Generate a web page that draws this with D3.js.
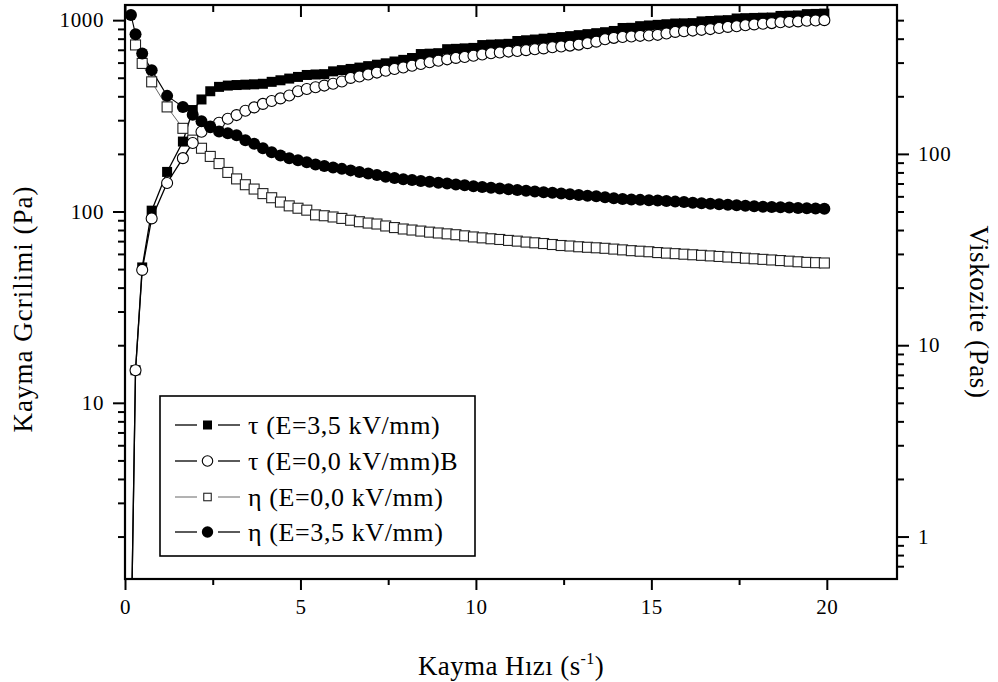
<!DOCTYPE html>
<html><head><meta charset="utf-8">
<script src="https://cdn.jsdelivr.net/npm/d3@7"></script>
<style>
body{margin:0;background:#fff}
svg{display:block}
text{font-family:"Liberation Serif","Times New Roman",serif;fill:#000}
</style>
</head><body>
<svg id="chart" width="998" height="682"></svg>
<script>
// ---- data ----
const shearRate = [0.17,0.30,0.49,0.76,1.20,1.65,1.93,
  2.18,2.43,2.68,2.93,3.18,3.43,3.68,3.93,4.18,4.43,4.68,4.93,
  5.18,5.43,5.68,5.93,6.18,6.43,6.68,6.93,7.18,7.43,7.68,7.93,
  8.18,8.43,8.68,8.93,9.18,9.43,9.68,9.93,10.18,10.43,10.68,10.93,
  11.18,11.43,11.68,11.93,12.18,12.43,12.68,12.93,13.18,13.43,13.68,13.93,
  14.18,14.43,14.68,14.93,15.18,15.43,15.68,15.93,16.18,16.43,16.68,16.93,
  17.18,17.43,17.68,17.93,18.18,18.43,18.68,18.93,19.18,19.43,19.68,19.93];

// shear stress, E = 3.5 kV/mm (Pa, left axis)
const tauE35 = [0.5,14.8,51,101,161,232,339,
  385,425,448,455,458,460,462,465,476,485,495,505,
  517,520,522,540,548,556,565,575,585,595,608,620,
  634,665,668,672,705,708,712,716,741,745,748,752,
  778,785,792,800,808,816,825,835,845,855,865,878,
  910,912,930,938,945,952,960,962,965,985,990,996,
  1000,1020,1024,1027,1030,1032,1052,1055,1058,1075,1078,1082];

// shear stress, E = 0.0 kV/mm (Pa, left axis)
const tauE0 = [0.5,14.8,49.5,92,141,190,228,
  261,276,291,305,319,336,350,365,378,390,404,425,
  437,446,455,465,478,499,508,520,532,544,556,566,
  578,590,602,614,624,635,642,652,662,672,678,685,
  690,697,705,712,722,728,736,745,758,772,795,808,
  817,822,828,832,838,852,868,875,882,890,898,910,
  922,930,940,950,958,965,975,980,985,992,996,1000];

// viscosity, E = 0.0 kV/mm (Pas, right axis)
const etaE0 = [null,371,297,238,176,136,118,
  107,97,89,80,74,69,65.5,62,59,56,53.5,52,
  50.8,48,47.5,46.8,46,45,44.2,43.5,43,42,41.2,40.5,
  40,39.5,39,38.6,38.2,37.8,37.3,36.8,36.4,36,35.7,35.3,
  35,34.6,34.3,34,33.6,33.2,33,32.7,32.5,32.3,32.1,31.8,
  31.5,31.2,31,30.8,30.5,30.3,30.1,29.9,29.7,29.5,29.3,29.1,
  28.9,28.7,28.5,28.3,28.1,27.9,27.7,27.5,27.3,27.1,27,26.9];

// viscosity, E = 3.5 kV/mm (Pas, right axis)
const etaE35 = [532,422,335,274,201,176,160,
  148,139,131,128,125,118,113,107,102,98,95,92.5,
  90.5,88,86.5,85,83.5,82,80.5,79,77.6,76,74.8,73.6,
  73,72.2,71.5,70.6,70,69.2,68.5,67.8,67.2,66.5,66,65.4,
  64.8,64.2,63.6,63.1,62.6,62.1,61.5,61,60.5,60,59.4,58.7,
  58.1,57.8,57.5,57.2,57,56.7,56.3,56,55.6,55.2,54.9,54.6,
  54.2,53.9,53.6,53.2,53,52.8,52.6,52.4,52.2,52,51.8,51.6];

const xTickValues = [0,5,10,15,20];
const xMinorTicks = [2.5,7.5,12.5,17.5];
const leftTickValues = [10,100,1000];
const leftMinorTicks = [2,3,4,5,6,7,8,9,20,30,40,50,60,70,80,90,200,300,400,500,600,700,800,900];
const rightTickValues = [1,10,100];
const rightMinorTicks = [0.7,0.8,0.9,2,3,4,5,6,7,8,9,20,30,40,50,60,70,80,90,200,300,400,500];
const legendLabels = ["\u03C4 (E=3,5 kV/mm)","\u03C4 (E=0,0 kV/mm)B","\u03B7 (E=0,0 kV/mm)","\u03B7 (E=3,5 kV/mm)"];

// ---- layout ----
const svg = d3.select("#chart");
const L = 125, R = 897, T = 5, B = 579;
const x = d3.scaleLinear().domain([0,22]).range([L,R]);
const yL = d3.scaleLog().domain([1.2,1200]).range([B,T]);
const yR = d3.scaleLog().domain([0.6,600]).range([B,T]);

svg.append("defs").append("clipPath").attr("id","plotclip")
  .append("rect").attr("x",L).attr("y",T).attr("width",R-L).attr("height",B-T);

function styleAxis(g, fs){
  g.select(".domain").remove();
  g.selectAll(".tick line").attr("stroke","#000").attr("stroke-width",2);
  g.selectAll(".tick text").attr("font-size",fs).attr("font-family","Liberation Serif, serif")
    .attr("letter-spacing",0.6).attr("fill","#000");
}

// bottom axis
svg.append("g").attr("transform",`translate(0,${B})`)
  .call(d3.axisBottom(x).tickValues(xTickValues).tickSize(11).tickPadding(9).tickFormat(d3.format("d")))
  .call(g=>styleAxis(g,21));
svg.append("g").attr("transform",`translate(0,${B})`)
  .call(d3.axisBottom(x).tickValues(xMinorTicks).tickSize(6).tickFormat(""))
  .call(g=>styleAxis(g,21));
// top axis (inward ticks)
svg.append("g").attr("transform",`translate(0,${T})`)
  .call(d3.axisTop(x).tickValues(xTickValues).tickSizeInner(-12).tickSizeOuter(0).tickFormat(""))
  .call(g=>styleAxis(g,21));
svg.append("g").attr("transform",`translate(0,${T})`)
  .call(d3.axisTop(x).tickValues(xMinorTicks).tickSizeInner(-7).tickSizeOuter(0).tickFormat(""))
  .call(g=>styleAxis(g,21));
// left axis
svg.append("g").attr("transform",`translate(${L},0)`)
  .call(d3.axisLeft(yL).tickValues(leftTickValues).tickSize(12).tickPadding(9).tickFormat(d3.format("d")))
  .call(g=>styleAxis(g,21));
svg.append("g").attr("transform",`translate(${L},0)`)
  .call(d3.axisLeft(yL).tickValues(leftMinorTicks).tickSize(7).tickFormat(""))
  .call(g=>styleAxis(g,21));
// right axis
svg.append("g").attr("transform",`translate(${R},0)`)
  .call(d3.axisRight(yR).tickValues(rightTickValues).tickSize(12).tickPadding(9).tickFormat(d3.format("d")))
  .call(g=>styleAxis(g,21));
svg.append("g").attr("transform",`translate(${R},0)`)
  .call(d3.axisRight(yR).tickValues(rightMinorTicks).tickSize(7).tickFormat(""))
  .call(g=>styleAxis(g,21));

// frame
svg.append("rect").attr("x",L).attr("y",T).attr("width",R-L).attr("height",B-T)
  .attr("fill","none").attr("stroke","#000").attr("stroke-width",2.2);

// ---- series ----
const series = [
  {key:"etaE0", vals:etaE0, y:yR, marker:"osq", lineColor:"#555", lw:0.9},
  {key:"tauE35", vals:tauE35, y:yL, marker:"fsq", lineColor:"#000", lw:1.3},
  {key:"tauE0", vals:tauE0, y:yL, marker:"ocirc", lineColor:"#000", lw:1.3},
  {key:"etaE35", vals:etaE35, y:yR, marker:"fcirc", lineColor:"#000", lw:1.1}
];
const plot = svg.append("g").attr("clip-path","url(#plotclip)");

series.forEach(s=>{
  s.pts = shearRate.map((r,i)=>({x:r, v:s.vals[i]})).filter(d=>d.v!=null);
  const line = d3.line().x(d=>x(d.x)).y(d=>s.y(d.v));
  plot.append("path").attr("d",line(s.pts)).attr("fill","none")
    .attr("stroke",s.lineColor).attr("stroke-width",s.lw);
});

function drawMarker(g, type, cx, cy, scale){
  scale = scale || 1;
  if(type==="fsq"){
    const s=10*scale;
    g.append("rect").attr("x",cx-s/2).attr("y",cy-s/2).attr("width",s).attr("height",s).attr("fill","#000");
  } else if(type==="osq"){
    const s=10*scale;
    g.append("rect").attr("x",cx-s/2).attr("y",cy-s/2).attr("width",s).attr("height",s)
      .attr("fill","#fff").attr("stroke","#222").attr("stroke-width",1.1);
  } else if(type==="ocirc"){
    g.append("circle").attr("cx",cx).attr("cy",cy).attr("r",5.5*scale)
      .attr("fill","#fff").attr("stroke","#000").attr("stroke-width",1.1);
  } else {
    g.append("circle").attr("cx",cx).attr("cy",cy).attr("r",6*scale).attr("fill","#000");
  }
}

series.forEach(s=>{
  const g = plot.append("g");
  s.pts.forEach(d=>drawMarker(g, s.marker, x(d.x), s.y(d.v)));
});

// ---- legend ----
const lg = svg.append("g");
lg.append("rect").attr("x",160).attr("y",396).attr("width",315).attr("height",160)
  .attr("fill","#fff").attr("stroke","#000").attr("stroke-width",1.6);
const legendOrder = [
  {marker:"fsq", lw:1.3, col:"#000", scale:0.9},
  {marker:"ocirc", lw:1.3, col:"#000", scale:0.95},
  {marker:"osq", lw:0.9, col:"#555", scale:0.75},
  {marker:"fcirc", lw:1.3, col:"#000", scale:0.95}
];
const rowY = [425,461,497,532];
legendOrder.forEach((o,i)=>{
  const cy = rowY[i];
  lg.append("line").attr("x1",175).attr("x2",197).attr("y1",cy).attr("y2",cy).attr("stroke",o.col).attr("stroke-width",o.lw);
  lg.append("line").attr("x1",218).attr("x2",240).attr("y1",cy).attr("y2",cy).attr("stroke",o.col).attr("stroke-width",o.lw);
  drawMarker(lg, o.marker, 207.5, cy, o.scale);
  lg.append("text").attr("x",248).attr("y",cy+9).attr("font-size",26).attr("letter-spacing",0.6).text(legendLabels[i]);
});

// ---- axis titles ----
const xt = svg.append("text").attr("x",511).attr("y",675).attr("text-anchor","middle")
  .attr("font-size",27).attr("letter-spacing",0.4);
xt.append("tspan").text("Kayma H\u0131z\u0131 (s");
xt.append("tspan").attr("dy",-11).attr("font-size",16).text("-1");
xt.append("tspan").attr("dy",11).text(")");

svg.append("text").attr("transform","translate(32,309) rotate(-90)")
  .attr("text-anchor","middle").attr("font-size",27).attr("letter-spacing",1).text("Kayma Gcrilimi (Pa)");
svg.append("text").attr("transform","translate(970,312) rotate(90)")
  .attr("text-anchor","middle").attr("font-size",27).attr("letter-spacing",0.6).text("Viskozite (Pas)");
</script>
</body></html>
